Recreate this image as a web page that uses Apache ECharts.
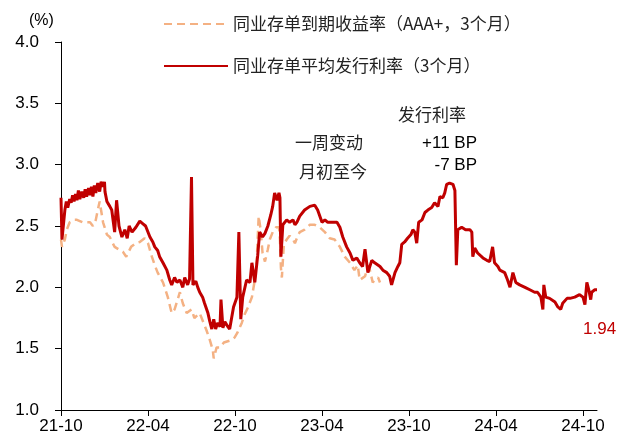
<!DOCTYPE html>
<html><head><meta charset="utf-8">
<script src="https://cdn.jsdelivr.net/npm/echarts@6/dist/echarts.min.js"></script>
<style>html,body{margin:0;padding:0;background:#fff}#c{width:622px;height:439px}</style>
</head><body><div id="c"></div>
<script>
const seriesNames = ['同业存单到期收益率（AAA+，3个月）', '同业存单平均发行利率（3个月）'];
const xTickMonths = [0, 6, 12, 18, 24, 30, 36];
const yTicks = [1.0, 1.5, 2.0, 2.5, 3.0, 3.5, 4.0];
const lastValueText = '1.94';
const noteHeader = '发行利率';
const noteRows = ['一周变动', '月初至今'];
const noteValues = ['+11 BP', '-7 BP'];

const issueDates = ['2021-10-01','2021-10-03','2021-10-05','2021-10-09','2021-10-12','2021-10-15','2021-10-19','2021-10-22','2021-10-25','2021-10-28','2021-11-01','2021-11-04','2021-11-07','2021-11-10','2021-11-14','2021-11-18','2021-11-21','2021-11-24','2021-11-28','2021-12-01','2021-12-04','2021-12-07','2021-12-10','2021-12-13','2021-12-17','2021-12-21','2021-12-24','2021-12-28','2021-12-31','2022-01-02','2022-01-06','2022-01-12','2022-01-16','2022-01-22','2022-01-26','2022-02-01','2022-02-07','2022-02-13','2022-02-18','2022-02-22','2022-02-28','2022-03-06','2022-03-14','2022-03-20','2022-03-26','2022-04-05','2022-04-11','2022-04-15','2022-04-21','2022-04-25','2022-05-02','2022-05-10','2022-05-16','2022-05-20','2022-05-26','2022-06-01','2022-06-07','2022-06-13','2022-06-17','2022-06-23','2022-06-27','2022-07-01','2022-07-04','2022-07-10','2022-07-14','2022-07-18','2022-07-24','2022-07-28','2022-08-05','2022-08-09','2022-08-13','2022-08-17','2022-08-21','2022-08-25','2022-08-30','2022-09-02','2022-09-06','2022-09-10','2022-09-16','2022-09-20','2022-09-24','2022-09-28','2022-10-05','2022-10-09','2022-10-13','2022-10-17','2022-10-25','2022-11-02','2022-11-06','2022-11-12','2022-11-18','2022-11-22','2022-11-28','2022-12-03','2022-12-09','2022-12-15','2022-12-19','2022-12-23','2022-12-28','2023-01-02','2023-01-04','2023-01-06','2023-01-10','2023-01-18','2023-01-24','2023-02-01','2023-02-05','2023-02-09','2023-02-15','2023-02-25','2023-03-06','2023-03-16','2023-03-22','2023-04-01','2023-04-07','2023-04-13','2023-04-23','2023-05-02','2023-05-08','2023-05-14','2023-05-22','2023-05-29','2023-06-05','2023-06-13','2023-06-19','2023-06-25','2023-06-30','2023-07-06','2023-07-14','2023-07-20','2023-08-01','2023-08-07','2023-08-15','2023-08-21','2023-08-25','2023-09-02','2023-09-08','2023-09-12','2023-09-16','2023-09-22','2023-09-28','2023-10-05','2023-10-09','2023-10-13','2023-10-17','2023-10-21','2023-10-28','2023-11-04','2023-11-10','2023-11-18','2023-11-24','2023-12-01','2023-12-05','2023-12-11','2023-12-15','2023-12-19','2023-12-25','2024-01-02','2024-01-06','2024-01-09','2024-01-12','2024-01-20','2024-01-28','2024-02-07','2024-02-11','2024-02-13','2024-02-17','2024-02-23','2024-02-27','2024-03-04','2024-03-12','2024-03-18','2024-03-24','2024-03-28','2024-04-05','2024-04-09','2024-04-19','2024-04-25','2024-04-30','2024-05-06','2024-05-12','2024-05-20','2024-06-01','2024-06-11','2024-06-21','2024-06-27','2024-07-04','2024-07-08','2024-07-10','2024-07-14','2024-07-22','2024-08-03','2024-08-09','2024-08-15','2024-08-19','2024-08-28','2024-09-04','2024-09-14','2024-09-24','2024-10-01','2024-10-05','2024-10-09','2024-10-13','2024-10-17','2024-10-19','2024-10-25','2024-10-30'];
const issueRates = [2.73,2.39,2.38,2.63,2.70,2.65,2.72,2.69,2.75,2.70,2.76,2.71,2.79,2.72,2.78,2.73,2.80,2.74,2.81,2.75,2.82,2.74,2.83,2.77,2.85,2.78,2.86,2.82,2.86,2.78,2.70,2.66,2.63,2.45,2.71,2.50,2.41,2.47,2.40,2.50,2.45,2.49,2.54,2.52,2.50,2.41,2.37,2.33,2.30,2.25,2.20,2.14,2.06,2.02,2.08,2.04,2.06,2.00,2.08,2.02,2.07,2.90,2.02,2.05,2.00,1.96,1.92,1.87,1.79,1.72,1.66,1.74,1.66,1.71,1.68,1.90,1.67,1.72,1.68,1.66,1.75,1.84,1.92,2.45,1.74,1.92,2.06,2.04,2.20,2.04,2.26,2.45,2.41,2.44,2.50,2.59,2.66,2.77,2.71,2.77,2.73,2.25,2.51,2.55,2.53,2.55,2.51,2.53,2.58,2.63,2.66,2.67,2.63,2.53,2.55,2.53,2.53,2.53,2.49,2.41,2.33,2.28,2.22,2.24,2.20,2.17,2.31,2.12,2.22,2.20,2.17,2.14,2.12,2.09,2.02,2.12,2.17,2.20,2.35,2.37,2.40,2.43,2.47,2.45,2.36,2.53,2.55,2.61,2.63,2.65,2.69,2.66,2.74,2.73,2.77,2.84,2.85,2.84,2.79,2.18,2.47,2.49,2.47,2.47,2.45,2.25,2.32,2.28,2.29,2.24,2.22,2.21,2.33,2.20,2.17,2.14,2.12,2.06,2.00,2.12,2.04,2.02,2.00,1.98,1.96,1.96,1.92,1.82,2.02,1.92,1.91,1.88,1.84,1.82,1.87,1.91,1.91,1.92,1.94,1.92,1.86,2.04,1.98,1.90,1.96,1.98,1.98];

const ytmDates = ['2021-10-01','2021-10-03','2021-10-09','2021-10-13','2021-10-19','2021-10-28','2021-11-04','2021-11-10','2021-11-16','2021-11-24','2021-12-01','2021-12-07','2021-12-13','2021-12-17','2021-12-21','2021-12-28','2022-01-06','2022-01-12','2022-01-18','2022-01-22','2022-01-30','2022-02-09','2022-02-16','2022-02-26','2022-03-06','2022-03-14','2022-03-24','2022-04-01','2022-04-09','2022-04-15','2022-04-21','2022-05-02','2022-05-12','2022-05-20','2022-05-26','2022-06-03','2022-06-07','2022-06-13','2022-06-21','2022-07-01','2022-07-07','2022-07-18','2022-07-24','2022-08-02','2022-08-09','2022-08-15','2022-08-17','2022-08-23','2022-08-30','2022-09-08','2022-09-16','2022-09-24','2022-09-30','2022-10-06','2022-10-15','2022-10-21','2022-10-27','2022-11-06','2022-11-12','2022-11-16','2022-11-20','2022-11-24','2022-11-28','2022-12-03','2022-12-09','2022-12-13','2022-12-19','2022-12-26','2023-01-02','2023-01-04','2023-01-06','2023-01-08','2023-01-12','2023-01-18','2023-01-24','2023-02-01','2023-02-05','2023-02-11','2023-02-15','2023-02-25','2023-03-06','2023-03-16','2023-03-26','2023-04-07','2023-04-17','2023-04-27','2023-05-08','2023-05-18','2023-05-29','2023-06-08','2023-06-15','2023-06-19','2023-06-30','2023-07-06','2023-07-10','2023-07-16','2023-07-20','2023-07-27','2023-08-01'];
const ytmRates = [2.39,2.33,2.39,2.47,2.53,2.55,2.55,2.54,2.53,2.53,2.53,2.50,2.55,2.63,2.70,2.53,2.43,2.41,2.36,2.33,2.31,2.29,2.25,2.33,2.36,2.37,2.40,2.36,2.25,2.18,2.12,2.04,1.92,1.79,1.82,1.91,1.96,1.87,1.79,1.82,1.75,1.79,1.73,1.65,1.57,1.49,1.42,1.51,1.51,1.55,1.56,1.57,1.59,1.63,1.71,1.78,1.83,1.92,2.06,2.22,2.58,2.47,2.28,2.21,2.31,2.39,2.45,2.49,2.49,2.39,2.16,2.08,2.35,2.39,2.42,2.39,2.36,2.42,2.45,2.47,2.51,2.51,2.49,2.45,2.40,2.39,2.33,2.25,2.20,2.14,2.18,2.06,2.09,2.17,2.14,2.04,2.06,2.08,2.04];

function toMonth(d) {
  const p = d.split('-').map(Number);
  return (p[0] - 2021) * 12 + (p[1] - 10) + (p[2] - 1) / 30;
}
function monthLabel(m) {
  const idx = 9 + Math.round(m);
  const y = 2021 + Math.floor(idx / 12);
  const mo = idx % 12 + 1;
  return String(y).slice(2) + '-' + (mo < 10 ? '0' + mo : mo);
}
const xMax = toMonth(issueDates[issueDates.length - 1]);
const issueData = issueDates.map((d, i) => [toMonth(d), issueRates[i]]);
const ytmData = ytmDates.map((d, i) => [toMonth(d), ytmRates[i]]);

const cjk = '"Noto Sans CJK SC", sans-serif';
const chart = echarts.init(document.getElementById('c'), null, { renderer: 'canvas' });
chart.setOption({
  animation: false,
  backgroundColor: '#fff',
  grid: { left: 61, right: 25, top: 42, bottom: 29, containLabel: false },
  legend: {
    orient: 'vertical', left: 158, top: 9, itemWidth: 64, itemHeight: 14, itemGap: 22,
    itemTextGap: 13,
    itemStyle: { opacity: 0 },
    textStyle: { fontFamily: cjk, fontSize: 17, color: '#222', lineHeight: 20 },
    data: seriesNames
  },
  xAxis: {
    type: 'value', min: 0, max: xMax, interval: 6,
    splitLine: { show: false },
    axisLine: { show: true, onZero: false, lineStyle: { color: '#000', width: 1 } },
    axisTick: { show: true, length: 6, lineStyle: { color: '#000' }, customValues: xTickMonths },
    axisLabel: { margin: 8, color: '#000', fontSize: 17, fontFamily: 'Liberation Sans',
                 customValues: xTickMonths, formatter: v => monthLabel(v) }
  },
  yAxis: {
    type: 'value', min: 1, max: 4, interval: 0.5,
    splitLine: { show: false },
    axisLine: { show: true, lineStyle: { color: '#000', width: 1 } },
    axisTick: { show: true, length: 6, lineStyle: { color: '#000' }, customValues: yTicks },
    axisLabel: { margin: 22, color: '#000', fontSize: 17, fontFamily: 'Liberation Sans',
                 customValues: yTicks, formatter: v => v.toFixed(1) }
  },
  series: [
    { name: seriesNames[0], type: 'line', data: ytmData, symbol: 'none',
      lineStyle: { color: '#F4B183', width: 2.5, type: [8, 5] }, itemStyle: { color: '#F4B183' }, z: 2 },
    { name: seriesNames[1], type: 'line', data: issueData, symbol: 'none',
      lineStyle: { color: '#C00000', width: 3 }, itemStyle: { color: '#C00000' }, z: 3,
      endLabel: { show: true, formatter: lastValueText, offset: [-22, 40], color: '#C00000',
                  fontSize: 17, fontFamily: 'Liberation Sans' } }
  ],
  graphic: [
    { type: 'text', left: 29, top: 13, style: { text: '(%)', font: '16px "Liberation Sans"', fill: '#000' } },
    { type: 'text', left: 398, top: 106, style: { text: noteHeader, font: '17px ' + cjk, fill: '#222' } },
    { type: 'text', left: 295, top: 134, style: { text: noteRows[0], font: '17px ' + cjk, fill: '#222' } },
    { type: 'text', left: 299, top: 163, style: { text: noteRows[1], font: '17px ' + cjk, fill: '#222' } },
    { type: 'text', right: 145, top: 135, style: { text: noteValues[0], font: '17px "Liberation Sans"', fill: '#000' } },
    { type: 'text', right: 145, top: 157, style: { text: noteValues[1], font: '17px "Liberation Sans"', fill: '#000' } }
  ]
});
</script></body></html>
